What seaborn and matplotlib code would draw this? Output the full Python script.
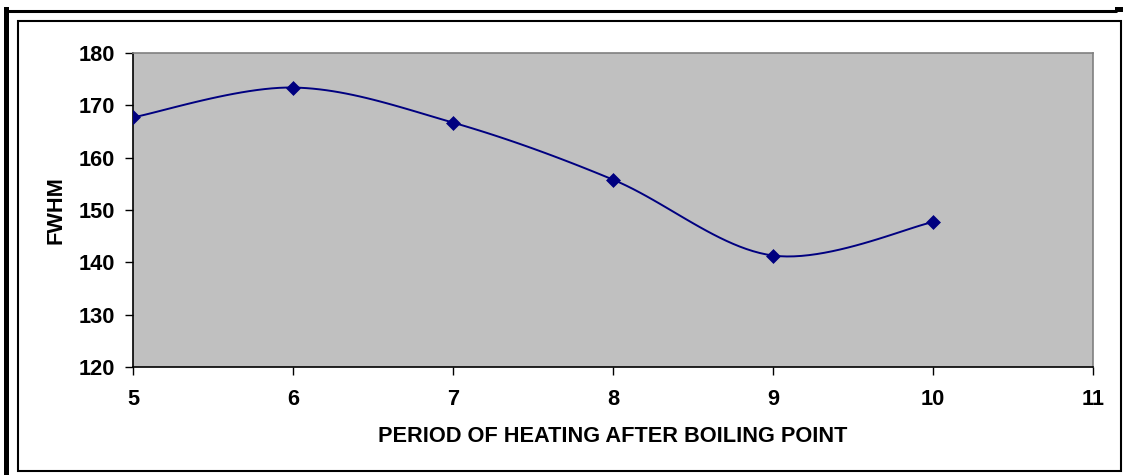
import numpy as np
import pandas as pd
import matplotlib
matplotlib.use("Agg")
import matplotlib.pyplot as plt
from matplotlib.lines import Line2D
from matplotlib.patches import Rectangle
import seaborn as sns

# Heating period (x) and measured FWHM (y)
heating_period = [5, 6, 7, 8, 9, 10]
fwhm = [167.7, 173.4, 166.7, 155.8, 141.3, 147.7]

x_ticks = [5, 6, 7, 8, 9, 10, 11]
y_ticks = [120, 130, 140, 150, 160, 170, 180]


def smooth_curve(xs, ys, steps=24):
    """Cubic Bezier smoothing through the points (spreadsheet-style smoothed line)."""
    p = np.column_stack([xs, ys]).astype(float)
    n = len(p)
    out = [p[0]]
    for i in range(n - 1):
        p0 = p[i - 1] if i > 0 else p[i]
        p1 = p[i]
        p2 = p[i + 1]
        p3 = p[i + 2] if i + 2 < n else p[i + 1]
        c1 = p1 + (p2 - p0) / 6.0
        c2 = p2 - (p3 - p1) / 6.0
        t = np.linspace(0, 1, steps + 1)[1:, None]
        seg = ((1 - t) ** 3) * p1 + 3 * ((1 - t) ** 2) * t * c1 + 3 * (1 - t) * t ** 2 * c2 + t ** 3 * p2
        out.extend(seg)
    out = np.array(out)
    return out[:, 0], out[:, 1]


sns.set_theme(style="white")
plt.rcParams["font.family"] = ["Liberation Sans", "DejaVu Sans"]
plt.rcParams["font.weight"] = "bold"

FS = 15.7

fig = plt.figure(figsize=(11.23, 4.75), dpi=100)
fig.patch.set_facecolor("white")
ax = fig.add_axes([133 / 1123, 1 - 367 / 475, (1093 - 133) / 1123, (367 - 53) / 475])
ax.set_facecolor("#C0C0C0")

sx, sy = smooth_curve(heating_period, fwhm)
curve = pd.DataFrame({"period": sx, "fwhm": sy})
points = pd.DataFrame({"period": heating_period, "fwhm": fwhm})

sns.lineplot(data=curve, x="period", y="fwhm", ax=ax, color="#000080",
             linewidth=1.4, sort=False, estimator=None)
sns.scatterplot(data=points, x="period", y="fwhm", ax=ax, color="#000080",
                marker="D", s=50, edgecolor="#000080", linewidth=0.5, zorder=3)

ax.set_xlim(5, 11)
ax.set_ylim(120, 180)
ax.set_xticks(x_ticks)
ax.set_yticks(y_ticks)
ax.set_xticklabels([str(v) for v in x_ticks])
ax.set_yticklabels([str(v) for v in y_ticks])
ax.tick_params(axis="both", which="both", direction="out", length=6, width=1,
               color="black", labelsize=FS, labelcolor="black")
ax.tick_params(axis="y", left=True, pad=7)
ax.tick_params(axis="x", bottom=True, pad=10)
for lbl in ax.get_xticklabels() + ax.get_yticklabels():
    lbl.set_fontweight("bold")

ax.spines["left"].set_color("black")
ax.spines["bottom"].set_color("black")
ax.spines["top"].set_color("#808080")
ax.spines["right"].set_color("#808080")
for s in ax.spines.values():
    s.set_linewidth(1.2)
    s.set_visible(True)

ax.set_xlabel("PERIOD OF HEATING AFTER BOILING POINT", fontsize=FS,
              fontweight="bold", color="black", labelpad=11)
ax.set_ylabel("FWHM", fontsize=FS, fontweight="bold", color="black", labelpad=9)

# Outer chart frame
W, H = 1123, 475
fig.add_artist(Rectangle((17.5 / W, 1 - 470.5 / H), (1120.5 - 17.5) / W, (470.5 - 20.5) / H,
                         transform=fig.transFigure, fill=False, edgecolor="black", linewidth=1.5))
fig.add_artist(Rectangle((4 / W, 0), 5 / W, 1 - 7 / H, transform=fig.transFigure,
                         facecolor="black", edgecolor="none"))
fig.add_artist(Line2D([9 / W, 1116 / W], [1 - 11 / H, 1 - 11 / H], transform=fig.transFigure,
                      color="black", linewidth=2.2))
fig.add_artist(Rectangle((1115 / W, 1 - 12 / H), 8 / W, 5 / H, transform=fig.transFigure,
                         facecolor="black", edgecolor="none"))

fig.savefig("out.png", dpi=100, facecolor="white")
